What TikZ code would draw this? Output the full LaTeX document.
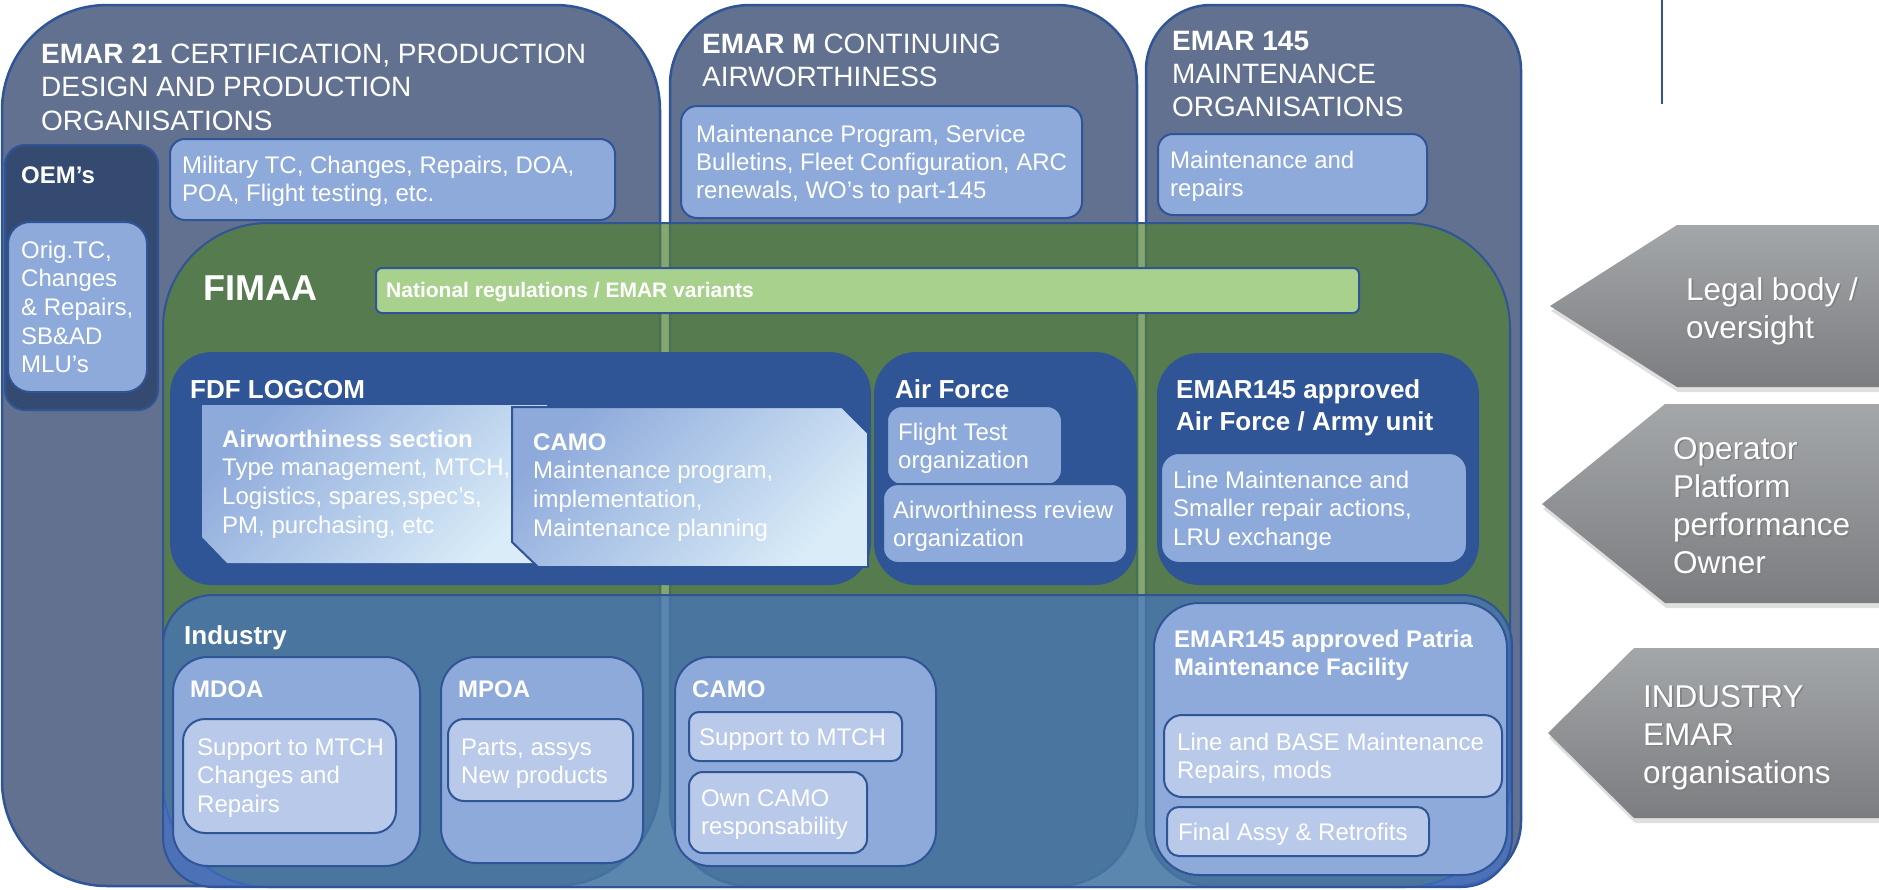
\documentclass[tikz,border=0pt]{standalone}
\usepackage{fontspec}
\setmainfont{Liberation Sans}
\usetikzlibrary{shadows}
\definecolor{slate}{HTML}{61718F}
\definecolor{bord}{HTML}{2F5597}
\definecolor{oemc}{HTML}{344A70}
\definecolor{lbox}{HTML}{8EAADB}
\definecolor{llbox}{HTML}{B9C9E9}
\definecolor{grn}{RGB}{82,128,53}
\definecolor{natc}{HTML}{A9D18E}
\definecolor{dblue}{HTML}{2F5597}
\definecolor{indc}{RGB}{66,114,209}
\definecolor{gradA}{HTML}{8EAADB}
\definecolor{gradB}{HTML}{D9ECF8}
\definecolor{arrtop}{HTML}{A4A7AA}
\definecolor{arrbot}{HTML}{7B7D80}
\newcommand{\ml}[1]{\begin{tabular}[t]{@{}l@{}}#1\end{tabular}}
\newcommand{\shd}[1]{\makebox[0pt][l]{\kern1.6pt\raisebox{-1.6pt}{\textcolor{black!50}{#1}}}#1}
\begin{document}
\begin{tikzpicture}[x=1pt,y=-1pt,
  every node/.style={inner sep=0pt, text=white, anchor=base west},
  emar/.style={fill=slate, draw=bord, line width=2.5pt},
  lbx/.style={fill=lbox, draw=bord, line width=2pt},
  llbx/.style={fill=llbox, draw=bord, line width=2pt},
  tf/.style={font=\fontsize{24}{28.7}\selectfont},
  bf/.style={font=\fontsize{24}{28.7}\selectfont\bfseries},
  ttl/.style={font=\fontsize{28}{33.5}\selectfont},
  hb/.style={font=\fontsize{26}{32}\selectfont\bfseries},
  arrshape/.style={top color=arrtop, bottom color=arrbot,
     drop shadow={shadow xshift=1pt, shadow yshift=-5pt, opacity=0.25}},
  arrtext/.style={font=\fontsize{31.5}{38.3}\selectfont}]
\useasboundingbox (0,0) rectangle (1879,889);
% EMAR columns
\draw[emar, rounded corners=105pt] (2,5) rectangle (660,886);
\draw[emar, rounded corners=80pt] (670,5) rectangle (1137,886);
\draw[emar, rounded corners=65pt] (1146,5) rectangle (1521,886);
\draw[bord, line width=1.5pt] (1662,0) -- (1662,104);
\node[ttl] (t21) at (41,63) {\ml{\textbf{EMAR 21} CERTIFICATION, PRODUCTION\\DESIGN AND PRODUCTION\\ORGANISATIONS}};
\node[ttl] (tm) at (702,53) {\ml{\textbf{EMAR M} CONTINUING\\AIRWORTHINESS}};
\node[font=\fontsize{28}{33}\selectfont] (t145) at (1172,50) {\ml{\textbf{EMAR 145}\\MAINTENANCE\\ORGANISATIONS}};
% OEM
\draw[fill=oemc, draw=bord, line width=2pt, rounded corners=20pt] (5,145) rectangle (158,410);
\node[bf] (oem) at (21,183) {OEM’s};
\draw[lbx, rounded corners=22pt] (8,222) rectangle (147,392);
\node[tf] (orig) at (21,258) {\ml{Orig.TC,\\Changes\\\& Repairs,\\SB\&AD\\MLU’s}};
% top light boxes
\draw[lbx, rounded corners=15pt] (170,139) rectangle (615,220);
\node[tf] (mil) at (182,173) {\ml{Military TC, Changes, Repairs, DOA,\\POA, Flight testing, etc.}};
\draw[lbx, rounded corners=16pt] (681,106) rectangle (1082,218);
\node[font=\fontsize{24}{28}\selectfont] (mp) at (696,142) {\ml{Maintenance Program, Service\\Bulletins, Fleet Configuration, ARC\\renewals, WO’s to part-145}};
\draw[lbx, rounded corners=15pt] (1158,134) rectangle (1427,215);
\node[tf] (mr) at (1170,168) {\ml{Maintenance and\\repairs}};
% FIMAA green
\draw[fill=grn, fill opacity=0.7, draw=bord, line width=2pt, rounded corners=105pt] (163,223) rectangle (1510,887);
\draw[fill=natc, draw=bord, line width=2pt, rounded corners=6pt] (376,268) rectangle (1359,313);
\node[font=\fontsize{36}{40}\selectfont\bfseries] (fimaa) at (203,300) {FIMAA};
\node[font=\fontsize{21}{25}\selectfont\bfseries] (nat) at (386,297) {National regulations / EMAR variants};
% dark blue boxes
\fill[dblue, rounded corners=42pt] (170,352) rectangle (871,585);
\fill[dblue, rounded corners=42pt] (874,352) rectangle (1137,585);
\fill[dblue, rounded corners=42pt] (1157,353) rectangle (1479,585);
\node[hb] (fdf) at (190,398) {FDF LOGCOM};
\node[hb] (af) at (895,398) {Air Force};
\node[hb] (e145af) at (1176,398) {\ml{EMAR145 approved\\Air Force / Army unit}};
\shade[top color=gradA, bottom color=gradB, shading angle=45] (202,405) -- (547,405) -- (547,563) -- (227,563) -- (202,537) -- cycle;
\shadedraw[top color=gradA, bottom color=gradB, shading angle=45, draw=bord, line width=2pt] (512,407) -- (842,407) -- (868,433) -- (868,567) -- (538,567) -- (512,542) -- cycle;
\node[tf] (aws) at (222,447) {\ml{\textbf{Airworthiness section}\\Type management, MTCH,\\Logistics, spares,spec’s,\\PM, purchasing, etc}};
\node[tf] (camo1) at (533,450) {\ml{\textbf{CAMO}\\Maintenance program,\\implementation,\\Maintenance planning}};
\draw[lbx, rounded corners=15pt] (887,406) rectangle (1062,485);
\node[tf] (ft) at (898,440) {\ml{Flight Test\\organization}};
\draw[lbx, rounded corners=15pt] (883,484) rectangle (1127,563);
\node[tf] (ar) at (893,518) {\ml{Airworthiness review\\organization}};
\draw[lbx, rounded corners=18pt] (1161,453) rectangle (1467,563);
\node[tf] (lm) at (1173,488) {\ml{Line Maintenance and\\Smaller repair actions,\\LRU exchange}};
% Industry
\draw[fill=indc, fill opacity=0.62, draw=bord, line width=2pt, rounded corners=50pt] (163,595) rectangle (1512,887);
\node[font=\fontsize{26}{30}\selectfont\bfseries] (ind) at (184,644) {Industry};
\draw[lbx, rounded corners=35pt] (173,657) rectangle (420,866);
\node[bf] (mdoa) at (190,697) {MDOA};
\draw[llbx, rounded corners=22pt] (183,719) rectangle (396,833);
\node[tf] (sup1) at (197,755) {\ml{Support to MTCH\\Changes and\\Repairs}};
\draw[lbx, rounded corners=35pt] (441,657) rectangle (643,863);
\node[bf] (mpoa) at (458,697) {MPOA};
\draw[llbx, rounded corners=16pt] (448,719) rectangle (633,801);
\node[tf] (parts) at (461,755) {\ml{Parts, assys\\New products}};
\draw[lbx, rounded corners=35pt] (675,657) rectangle (936,866);
\node[bf] (camo2) at (692,697) {CAMO};
\draw[llbx, rounded corners=10pt] (689,712) rectangle (902,761);
\node[tf] (sup2) at (699,745) {Support to MTCH};
\draw[llbx, rounded corners=14pt] (689,772) rectangle (867,853);
\node[tf] (own) at (701,806) {\ml{Own CAMO\\responsability}};
\draw[lbx, rounded corners=45pt] (1154,603) rectangle (1507,875);
\node[font=\fontsize{24}{28}\selectfont\bfseries] (patria) at (1174,647) {\ml{EMAR145 approved Patria\\Maintenance Facility}};
\draw[llbx, rounded corners=18pt] (1164,715) rectangle (1502,797);
\node[font=\fontsize{24}{28}\selectfont] (lbm) at (1177,750) {\ml{Line and BASE Maintenance\\Repairs, mods}};
\draw[llbx, rounded corners=12pt] (1167,807) rectangle (1429,856);
\node[tf] (fa) at (1178,840) {Final Assy \& Retrofits};
% side arrows
\shade[arrshape] (1879,225) -- (1677,225) -- (1550,306) -- (1677,387) -- (1879,387) -- cycle;
\shade[arrshape] (1879,404) -- (1665,404) -- (1542,504) -- (1665,603) -- (1879,603) -- cycle;
\shade[arrshape] (1879,648) -- (1634,648) -- (1548,733) -- (1634,818) -- (1879,818) -- cycle;
\node[arrtext] (a1) at (1686,300) {\ml{\shd{Legal body /}\\\shd{oversight}}};
\node[arrtext] (a2) at (1673,459) {\ml{\shd{Operator}\\\shd{Platform}\\\shd{performance}\\\shd{Owner}}};
\node[arrtext] (a3) at (1643,707) {\ml{\shd{INDUSTRY}\\\shd{EMAR}\\\shd{organisations}}};
\end{tikzpicture}
\end{document}
